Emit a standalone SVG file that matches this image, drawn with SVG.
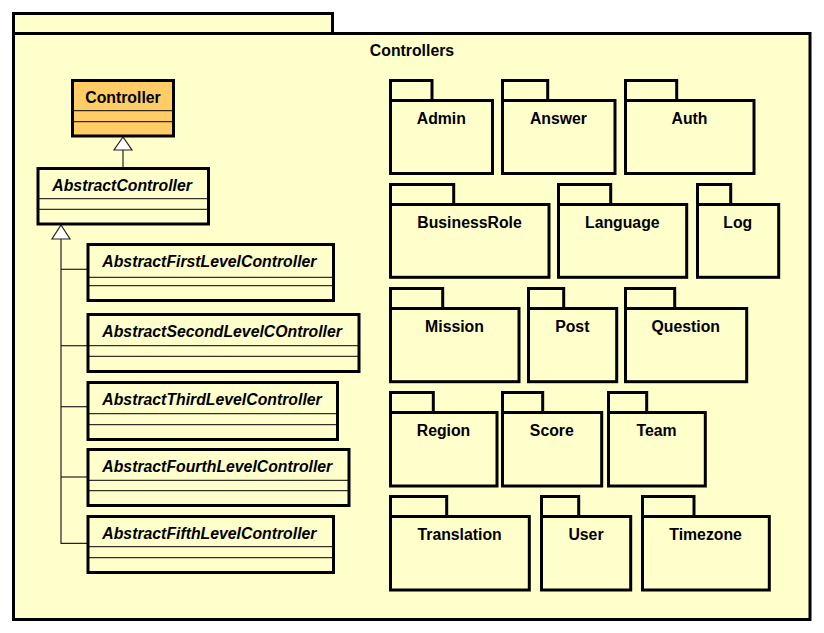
<svg xmlns="http://www.w3.org/2000/svg" width="824" height="633" viewBox="0 0 824 633">
<defs>
<style>
.pkg{fill:#FFFFCC;stroke:#000;stroke-width:3}
.cls{fill:#FFFFCC;stroke:#000;stroke-width:3}
.ctl{fill:#FFCC66;stroke:#000;stroke-width:3}
.sep{stroke:#000;stroke-width:1;fill:none}
.conn{stroke:#222;stroke-width:1.2;fill:none}
.tri{fill:#fff;stroke:#222;stroke-width:1.2}
text{font-family:"Liberation Sans",Arial,sans-serif;font-size:15.8px;font-weight:bold;fill:#000}
.it{font-style:italic}
.c{text-anchor:middle}
</style>
</defs>
<rect width="824" height="633" fill="#fff"/>
<g id="Controllers">
<rect class="pkg" x="13.5" y="13.5" width="319" height="20"/>
<rect class="pkg" x="13.5" y="33.5" width="796.5" height="586"/>
<text class="c" x="412" y="56">Controllers</text>
</g>
<g id="connectors">
<line class="conn" x1="123" y1="150" x2="123" y2="168"/>
<polygon class="tri" points="123,137 114,150 132,150"/>
<polyline class="conn" points="61,239 61,543.3 87,543.3"/>
<line class="conn" x1="61" y1="269.3" x2="87" y2="269.3"/>
<line class="conn" x1="61" y1="345.7" x2="87" y2="345.7"/>
<line class="conn" x1="61" y1="406.7" x2="87" y2="406.7"/>
<line class="conn" x1="61" y1="477" x2="87" y2="477"/>
<polygon class="tri" points="61,225 52,239 70,239"/>
</g>
<g id="Controller">
<rect class="ctl" x="72.5" y="80.5" width="101" height="55.5"/>
<line class="sep" x1="72" y1="110.7" x2="173.5" y2="110.7"/>
<line class="sep" x1="72" y1="121.7" x2="173.5" y2="121.7"/>
<text class="c" x="123" y="102.5">Controller</text>
</g>
<g id="AbstractController">
<rect class="cls" x="38" y="168.5" width="170.5" height="55.5"/>
<line class="sep" x1="37.7" y1="198.7" x2="208.7" y2="198.7"/>
<line class="sep" x1="37.7" y1="209.3" x2="208.7" y2="209.3"/>
<text class="it" x="52.3" y="190.5">AbstractController</text>
</g>
<g id="AbstractFirstLevelController">
<rect class="cls" x="88" y="244.5" width="245.5" height="56"/>
<line class="sep" x1="87.5" y1="277.3" x2="333.5" y2="277.3"/>
<line class="sep" x1="87.5" y1="285.7" x2="333.5" y2="285.7"/>
<text class="it" x="102.3" y="266.5">AbstractFirstLevelController</text>
</g>
<g id="AbstractSecondLevelCOntroller">
<rect class="cls" x="88" y="314.5" width="271" height="57"/>
<line class="sep" x1="87.5" y1="345.7" x2="359" y2="345.7"/>
<line class="sep" x1="87.5" y1="356.3" x2="359" y2="356.3"/>
<text class="it" x="102.3" y="337">AbstractSecondLevelCOntroller</text>
</g>
<g id="AbstractThirdLevelController">
<rect class="cls" x="88" y="382.5" width="249.5" height="57"/>
<line class="sep" x1="87.5" y1="413.7" x2="337.5" y2="413.7"/>
<line class="sep" x1="87.5" y1="424.7" x2="337.5" y2="424.7"/>
<text class="it" x="102.3" y="405">AbstractThirdLevelController</text>
</g>
<g id="AbstractFourthLevelController">
<rect class="cls" x="88" y="449.5" width="261" height="56"/>
<line class="sep" x1="87.5" y1="480.3" x2="349" y2="480.3"/>
<line class="sep" x1="87.5" y1="490.7" x2="349" y2="490.7"/>
<text class="it" x="102.3" y="472">AbstractFourthLevelController</text>
</g>
<g id="AbstractFifthLevelController">
<rect class="cls" x="88" y="516.5" width="245.5" height="56"/>
<line class="sep" x1="87.5" y1="546.7" x2="333.5" y2="546.7"/>
<line class="sep" x1="87.5" y1="557.7" x2="333.5" y2="557.7"/>
<text class="it" x="102.3" y="539">AbstractFifthLevelController</text>
</g>
<g id="Admin"><rect class="pkg" x="390.5" y="80.5" width="41.5" height="20"/><rect class="pkg" x="390.5" y="100.5" width="102" height="73"/><text class="c" x="441.3" y="124">Admin</text></g>
<g id="Answer"><rect class="pkg" x="502.5" y="80.5" width="45.2" height="20"/><rect class="pkg" x="502.5" y="100.5" width="112.5" height="73"/><text class="c" x="558.5" y="124">Answer</text></g>
<g id="Auth"><rect class="pkg" x="625.5" y="80.5" width="51.2" height="20"/><rect class="pkg" x="625.5" y="100.5" width="128.5" height="73"/><text class="c" x="689.5" y="124">Auth</text></g>
<g id="BusinessRole"><rect class="pkg" x="390.5" y="184.5" width="63.2" height="20"/><rect class="pkg" x="390.5" y="204.5" width="158.5" height="72.8"/><text class="c" x="469.5" y="228">BusinessRole</text></g>
<g id="Language"><rect class="pkg" x="558.5" y="184.5" width="52.2" height="20"/><rect class="pkg" x="558.5" y="204.5" width="128.2" height="72.8"/><text class="c" x="622.3" y="228">Language</text></g>
<g id="Log"><rect class="pkg" x="697.5" y="184.5" width="33.2" height="20"/><rect class="pkg" x="697.5" y="204.5" width="81.2" height="72.8"/><text class="c" x="737.8" y="228">Log</text></g>
<g id="Mission"><rect class="pkg" x="390.5" y="288.5" width="52.2" height="20"/><rect class="pkg" x="390.5" y="308.5" width="128.5" height="73.2"/><text class="c" x="454.5" y="332">Mission</text></g>
<g id="Post"><rect class="pkg" x="528.5" y="288.5" width="35.2" height="20"/><rect class="pkg" x="528.5" y="308.5" width="88.2" height="73.2"/><text class="c" x="572.3" y="332">Post</text></g>
<g id="Question"><rect class="pkg" x="625.5" y="288.5" width="49.2" height="20"/><rect class="pkg" x="625.5" y="308.5" width="121.2" height="73.2"/><text class="c" x="685.8" y="332">Question</text></g>
<g id="Region"><rect class="pkg" x="390.5" y="392.5" width="42.8" height="20"/><rect class="pkg" x="390.5" y="412.5" width="106.5" height="73.5"/><text class="c" x="443.5" y="436">Region</text></g>
<g id="Score"><rect class="pkg" x="502.5" y="392.5" width="40.2" height="20"/><rect class="pkg" x="502.5" y="412.5" width="99.2" height="73.5"/><text class="c" x="551.8" y="436">Score</text></g>
<g id="Team"><rect class="pkg" x="608.5" y="392.5" width="38.2" height="20"/><rect class="pkg" x="608.5" y="412.5" width="96.8" height="73.5"/><text class="c" x="656.6" y="436">Team</text></g>
<g id="Translation"><rect class="pkg" x="390.5" y="496.5" width="56.2" height="20"/><rect class="pkg" x="390.5" y="516.5" width="138.8" height="73.5"/><text class="c" x="459.6" y="540">Translation</text></g>
<g id="User"><rect class="pkg" x="541.5" y="496.5" width="37.2" height="20"/><rect class="pkg" x="541.5" y="516.5" width="89.2" height="73.5"/><text class="c" x="586" y="540">User</text></g>
<g id="Timezone"><rect class="pkg" x="642.5" y="496.5" width="51.5" height="20"/><rect class="pkg" x="642.5" y="516.5" width="126.8" height="73.5"/><text class="c" x="705.6" y="540">Timezone</text></g>
</svg>
